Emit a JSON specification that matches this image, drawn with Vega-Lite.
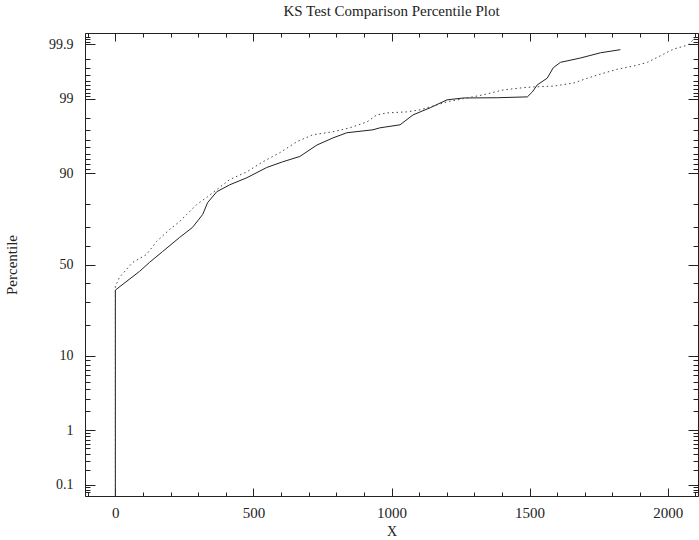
{
  "$schema": "https://vega.github.io/schema/vega-lite/v6.json",
  "width": 613,
  "height": 463,
  "autosize": {"type": "none"},
  "padding": {"left": 85, "top": 33, "right": 1, "bottom": 44},
  "background": "white",
  "title": {"text": "KS Test Comparison Percentile Plot", "font": "Liberation Serif", "fontSize": 15, "fontWeight": "normal", "color": "#222", "offset": 7, "anchor": "middle"},
  "config": {
    "view": {"stroke": "#222", "strokeWidth": 1},
    "axis": {"grid": false, "domain": false, "labelFont": "Liberation Serif", "titleFont": "Liberation Serif", "labelFontSize": 14, "titleFontSize": 15, "titleFontWeight": "normal", "labelColor": "#222", "titleColor": "#222", "tickColor": "#222", "labelFlush": false, "labelOverlap": false}
  },
  "datasets": {
    "solid": [
      {"x": 0, "percentile": 0.05}, {"x": 0, "percentile": 36}, {"x": 87, "percentile": 46.1}, {"x": 123, "percentile": 51.1},
      {"x": 171, "percentile": 57.2}, {"x": 232, "percentile": 64.7}, {"x": 279, "percentile": 69.8}, {"x": 316, "percentile": 75.8},
      {"x": 334, "percentile": 80.7}, {"x": 367, "percentile": 84.6}, {"x": 414, "percentile": 86.8}, {"x": 476, "percentile": 88.8},
      {"x": 548, "percentile": 91.3}, {"x": 606, "percentile": 92.5}, {"x": 668, "percentile": 93.5}, {"x": 730, "percentile": 95.3},
      {"x": 788, "percentile": 96.2}, {"x": 838, "percentile": 96.76}, {"x": 933, "percentile": 97.05}, {"x": 958, "percentile": 97.23},
      {"x": 1031, "percentile": 97.49}, {"x": 1078, "percentile": 98.2}, {"x": 1140, "percentile": 98.6}, {"x": 1201, "percentile": 98.95},
      {"x": 1260, "percentile": 99.02}, {"x": 1383, "percentile": 99.03}, {"x": 1492, "percentile": 99.06}, {"x": 1510, "percentile": 99.22},
      {"x": 1528, "percentile": 99.41}, {"x": 1564, "percentile": 99.55}, {"x": 1586, "percentile": 99.71}, {"x": 1612, "percentile": 99.77},
      {"x": 1684, "percentile": 99.81}, {"x": 1757, "percentile": 99.85}, {"x": 1829, "percentile": 99.87}
    ],
    "dotted": [
      {"x": 0, "percentile": 0.05}, {"x": 0, "percentile": 38}, {"x": 15, "percentile": 42.9}, {"x": 62, "percentile": 51.1},
      {"x": 113, "percentile": 55.6}, {"x": 149, "percentile": 62.6}, {"x": 196, "percentile": 68.8}, {"x": 232, "percentile": 72.6},
      {"x": 258, "percentile": 75.8}, {"x": 294, "percentile": 79.9}, {"x": 334, "percentile": 82.9}, {"x": 367, "percentile": 85.3},
      {"x": 414, "percentile": 88.3}, {"x": 476, "percentile": 90.3}, {"x": 534, "percentile": 92.5}, {"x": 595, "percentile": 94.13},
      {"x": 657, "percentile": 95.73}, {"x": 715, "percentile": 96.55}, {"x": 788, "percentile": 96.86}, {"x": 849, "percentile": 97.23},
      {"x": 911, "percentile": 97.72}, {"x": 947, "percentile": 98.2}, {"x": 984, "percentile": 98.32}, {"x": 1056, "percentile": 98.38},
      {"x": 1103, "percentile": 98.49}, {"x": 1165, "percentile": 98.74}, {"x": 1201, "percentile": 98.87}, {"x": 1332, "percentile": 99.13},
      {"x": 1405, "percentile": 99.28}, {"x": 1477, "percentile": 99.34}, {"x": 1514, "percentile": 99.36}, {"x": 1586, "percentile": 99.38},
      {"x": 1659, "percentile": 99.45}, {"x": 1710, "percentile": 99.55}, {"x": 1757, "percentile": 99.62}, {"x": 1818, "percentile": 99.69},
      {"x": 1877, "percentile": 99.73}, {"x": 1927, "percentile": 99.77}, {"x": 1985, "percentile": 99.84}, {"x": 2022, "percentile": 99.874},
      {"x": 2073, "percentile": 99.895}, {"x": 2105, "percentile": 99.93}
    ]
  },
  "layer": [
    {
      "data": {"name": "solid"},
      "transform": [{"calculate": "quantileNormal(datum.percentile / 100)", "as": "z"}],
      "mark": {"type": "line", "stroke": "#222", "strokeWidth": 1, "clip": true},
      "encoding": {
        "x": {"field": "x", "type": "quantitative", "scale": {"domain": [-110, 2110], "nice": false, "zero": false},
          "axis": {"orient": "bottom", "title": "X", "titlePadding": 0, "titleFontSize": 14, "format": "d", "labelFontSize": 15,
            "values": [-100,0,100,200,300,400,500,600,700,800,900,1000,1100,1200,1300,1400,1500,1600,1700,1800,1900,2000,2100],
            "labelExpr": "datum.value % 500 === 0 ? datum.label : ''",
            "tickSize": {"condition": {"test": "datum.value % 500 === 0", "value": -8}, "value": -4},
            "labelPadding": 17}},
        "y": {"field": "z", "type": "quantitative", "scale": {"domain": [-3.245, 3.245], "nice": false, "zero": false},
          "axis": {"orient": "left", "title": "Percentile", "titlePadding": 29,
            "values": [3.2389,3.1947,3.1559,3.1214,3.0902,2.8782,2.7478,2.6521,2.5758,2.5121,2.4573,2.4089,2.3656,2.3263,2.0537,1.8808,1.7507,1.6449,1.5548,1.4758,1.4051,1.3408,1.2816,0.8416,0.5244,0.2533,0,-0.2533,-0.5244,-0.8416,-1.2816,-1.3408,-1.4051,-1.4758,-1.5548,-1.6449,-1.7507,-1.8808,-2.0537,-2.3263,-2.3656,-2.4089,-2.4573,-2.5121,-2.5758,-2.6521,-2.7478,-2.8782,-3.0902,-3.1214,-3.1559,-3.1947,-3.2389],
            "labelExpr": "datum.value === 3.0902 ? '99.9' : datum.value === 2.3263 ? '99' : datum.value === 1.2816 ? '90' : datum.value === 0 ? '50' : datum.value === -1.2816 ? '10' : datum.value === -2.3263 ? '1' : datum.value === -3.0902 ? '0.1' : ''",
            "tickSize": {"condition": {"test": "indexof([3.0902,2.3263,1.2816,0,-1.2816,-2.3263,-3.0902], datum.value) >= 0", "value": -10}, "value": -5},
            "labelPadding": 22}},
        "order": {"field": "percentile", "type": "quantitative"}
      }
    },
    {
      "data": {"name": "dotted"},
      "transform": [{"calculate": "quantileNormal(datum.percentile / 100)", "as": "z"}],
      "mark": {"type": "line", "stroke": "#444", "strokeWidth": 1, "strokeDash": [1.5, 3], "clip": true},
      "encoding": {
        "x": {"field": "x", "type": "quantitative", "scale": {"domain": [-110, 2110], "nice": false, "zero": false},
          "axis": {"orient": "top", "title": null, "labels": false,
            "values": [-100,0,100,200,300,400,500,600,700,800,900,1000,1100,1200,1300,1400,1500,1600,1700,1800,1900,2000,2100],
            "tickSize": {"condition": {"test": "datum.value % 500 === 0", "value": -8}, "value": -4}}},
        "y": {"field": "z", "type": "quantitative", "scale": {"domain": [-3.245, 3.245], "nice": false, "zero": false},
          "axis": {"orient": "right", "title": null, "labels": false,
            "values": [3.2389,3.1947,3.1559,3.1214,3.0902,2.8782,2.7478,2.6521,2.5758,2.5121,2.4573,2.4089,2.3656,2.3263,2.0537,1.8808,1.7507,1.6449,1.5548,1.4758,1.4051,1.3408,1.2816,0.8416,0.5244,0.2533,0,-0.2533,-0.5244,-0.8416,-1.2816,-1.3408,-1.4051,-1.4758,-1.5548,-1.6449,-1.7507,-1.8808,-2.0537,-2.3263,-2.3656,-2.4089,-2.4573,-2.5121,-2.5758,-2.6521,-2.7478,-2.8782,-3.0902,-3.1214,-3.1559,-3.1947,-3.2389],
            "tickSize": {"condition": {"test": "indexof([3.0902,2.3263,1.2816,0,-1.2816,-2.3263,-3.0902], datum.value) >= 0", "value": -10}, "value": -5}}},
        "order": {"field": "percentile", "type": "quantitative"}
      }
    }
  ],
  "resolve": {"scale": {"x": "shared", "y": "shared"}, "axis": {"x": "independent", "y": "independent"}}
}
